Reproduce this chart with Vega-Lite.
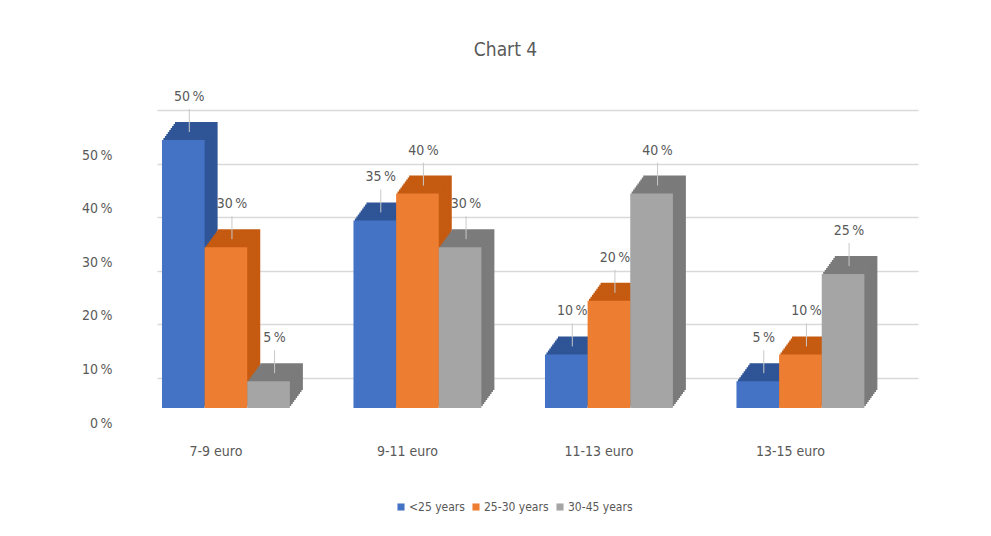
{
  "$schema": "https://vega.github.io/schema/vega-lite/v6.json",
  "width": 761,
  "height": 268,
  "autosize": {"type": "none"},
  "padding": {"left": 157, "top": 140, "right": 73, "bottom": 128},
  "background": "white",
  "title": {
    "text": "Chart 4",
    "fontSize": 19,
    "font": "Liberation Sans Narrow, DejaVu Sans Condensed, sans-serif",
    "fontWeight": "normal",
    "color": "#595959",
    "anchor": "middle",
    "dx": -32,
    "offset": 30
  },
  "data": {
    "values": [
      {"price": "7-9 euro", "group": "<25 years", "value": 50},
      {"price": "7-9 euro", "group": "25-30 years", "value": 30},
      {"price": "7-9 euro", "group": "30-45 years", "value": 5},
      {"price": "9-11 euro", "group": "<25 years", "value": 35},
      {"price": "9-11 euro", "group": "25-30 years", "value": 40},
      {"price": "9-11 euro", "group": "30-45 years", "value": 30},
      {"price": "11-13 euro", "group": "<25 years", "value": 10},
      {"price": "11-13 euro", "group": "25-30 years", "value": 20},
      {"price": "11-13 euro", "group": "30-45 years", "value": 40},
      {"price": "13-15 euro", "group": "<25 years", "value": 5},
      {"price": "13-15 euro", "group": "25-30 years", "value": 10},
      {"price": "13-15 euro", "group": "30-45 years", "value": 25}
    ]
  },
  "transform": [
    {"calculate": "datum.value + '\u2009%'", "as": "label"}
  ],
  "encoding": {
    "x": {
      "field": "price",
      "type": "nominal",
      "sort": ["7-9 euro", "9-11 euro", "11-13 euro", "13-15 euro"],
      "scale": {"paddingInner": 0.332, "paddingOuter": 0.153, "align": 0.085},
      "axis": {
        "title": null,
        "domain": false,
        "ticks": false,
        "labelAngle": 0,
        "labelPadding": 36,
        "labelOffset": -10,
        "labelFontSize": 14,
        "labelColor": "#595959",
        "labelFont": "Liberation Sans Narrow, DejaVu Sans Condensed, sans-serif"
      }
    },
    "xOffset": {
      "field": "group",
      "sort": ["<25 years", "25-30 years", "30-45 years"]
    },
    "y": {
      "field": "value",
      "type": "quantitative",
      "scale": {"domain": [0, 50], "nice": false},
      "axis": {
        "title": null,
        "values": [0, 10, 20, 30, 40, 50],
        "labelExpr": "datum.value + '\u2009%'",
        "domain": false,
        "ticks": false,
        "grid": true,
        "gridColor": "#d9d9d9",
        "gridWidth": 1.5,
        "tickOffset": -30,
        "labelOffset": 45,
        "offset": 45,
        "labelPadding": 0,
        "labelFontSize": 14,
        "labelColor": "#595959",
        "labelFont": "Liberation Sans Narrow, DejaVu Sans Condensed, sans-serif"
      }
    }
  },
  "layer": [
    {
      "encoding": {
        "color": {
          "field": "group",
          "type": "nominal",
          "scale": {
            "domain": ["<25 years", "25-30 years", "30-45 years"],
            "range": ["#2F5597", "#C55A11", "#7B7B7B"]
          },
          "legend": null
        }
      },
      "layer": [
        {"mark": {"type": "bar", "yOffset": -18, "y2Offset": -18},
         "encoding": {"xOffset": {"field": "group", "sort": ["<25 years", "25-30 years", "30-45 years"], "scale": {"range": [13, {"expr": "bandwidth('x') + 13"}]}}}},
        {"mark": {"type": "bar", "yOffset": -16, "y2Offset": -16},
         "encoding": {"xOffset": {"field": "group", "sort": ["<25 years", "25-30 years", "30-45 years"], "scale": {"range": [11.6, {"expr": "bandwidth('x') + 11.6"}]}}}},
        {"mark": {"type": "bar", "yOffset": -14, "y2Offset": -14},
         "encoding": {"xOffset": {"field": "group", "sort": ["<25 years", "25-30 years", "30-45 years"], "scale": {"range": [10.1, {"expr": "bandwidth('x') + 10.1"}]}}}},
        {"mark": {"type": "bar", "yOffset": -12, "y2Offset": -12},
         "encoding": {"xOffset": {"field": "group", "sort": ["<25 years", "25-30 years", "30-45 years"], "scale": {"range": [8.7, {"expr": "bandwidth('x') + 8.7"}]}}}},
        {"mark": {"type": "bar", "yOffset": -10, "y2Offset": -10},
         "encoding": {"xOffset": {"field": "group", "sort": ["<25 years", "25-30 years", "30-45 years"], "scale": {"range": [7.2, {"expr": "bandwidth('x') + 7.2"}]}}}},
        {"mark": {"type": "bar", "yOffset": -8, "y2Offset": -8},
         "encoding": {"xOffset": {"field": "group", "sort": ["<25 years", "25-30 years", "30-45 years"], "scale": {"range": [5.8, {"expr": "bandwidth('x') + 5.8"}]}}}},
        {"mark": {"type": "bar", "yOffset": -6, "y2Offset": -6},
         "encoding": {"xOffset": {"field": "group", "sort": ["<25 years", "25-30 years", "30-45 years"], "scale": {"range": [4.3, {"expr": "bandwidth('x') + 4.3"}]}}}},
        {"mark": {"type": "bar", "yOffset": -4, "y2Offset": -4},
         "encoding": {"xOffset": {"field": "group", "sort": ["<25 years", "25-30 years", "30-45 years"], "scale": {"range": [2.9, {"expr": "bandwidth('x') + 2.9"}]}}}},
        {"mark": {"type": "bar", "yOffset": -2, "y2Offset": -2},
         "encoding": {"xOffset": {"field": "group", "sort": ["<25 years", "25-30 years", "30-45 years"], "scale": {"range": [1.4, {"expr": "bandwidth('x') + 1.4"}]}}}}
      ],
      "resolve": {"scale": {"xOffset": "independent"}}
    },
    {
      "mark": {"type": "bar"},
      "encoding": {
        "color": {
          "field": "group",
          "type": "nominal",
          "scale": {
            "domain": ["<25 years", "25-30 years", "30-45 years"],
            "range": ["#4472C4", "#ED7D31", "#A5A5A5"]
          },
          "legend": {
            "title": null,
            "orient": "none",
            "direction": "horizontal",
            "legendX": 238,
            "legendY": 361,
            "symbolType": "square",
            "symbolSize": 50,
            "symbolStrokeWidth": 0,
            "labelFontSize": 12,
            "labelColor": "#595959",
            "labelFont": "Liberation Sans Narrow, DejaVu Sans Condensed, sans-serif",
            "labelOffset": 2,
            "columnPadding": 5
          }
        }
      }
    },
    {
      "mark": {"type": "rule", "color": "#c8c8c8", "strokeWidth": 1, "yOffset": -31, "y2Offset": -8},
      "encoding": {
        "xOffset": {"field": "group", "sort": ["<25 years", "25-30 years", "30-45 years"], "scale": {"range": [6, {"expr": "bandwidth('x') + 6"}]}},
        "y2": {"field": "value"}
      }
    },
    {
      "mark": {
        "type": "text",
        "dy": -43,
        "dx": 6,
        "fontSize": 14,
        "color": "#595959",
        "font": "Liberation Sans Narrow, DejaVu Sans Condensed, sans-serif",
        "baseline": "middle"
      },
      "encoding": {
        "text": {"field": "label"}
      }
    }
  ],
  "resolve": {"scale": {"color": "independent", "xOffset": "independent"}, "legend": {"color": "independent"}},
  "config": {"view": {"stroke": null}}
}
